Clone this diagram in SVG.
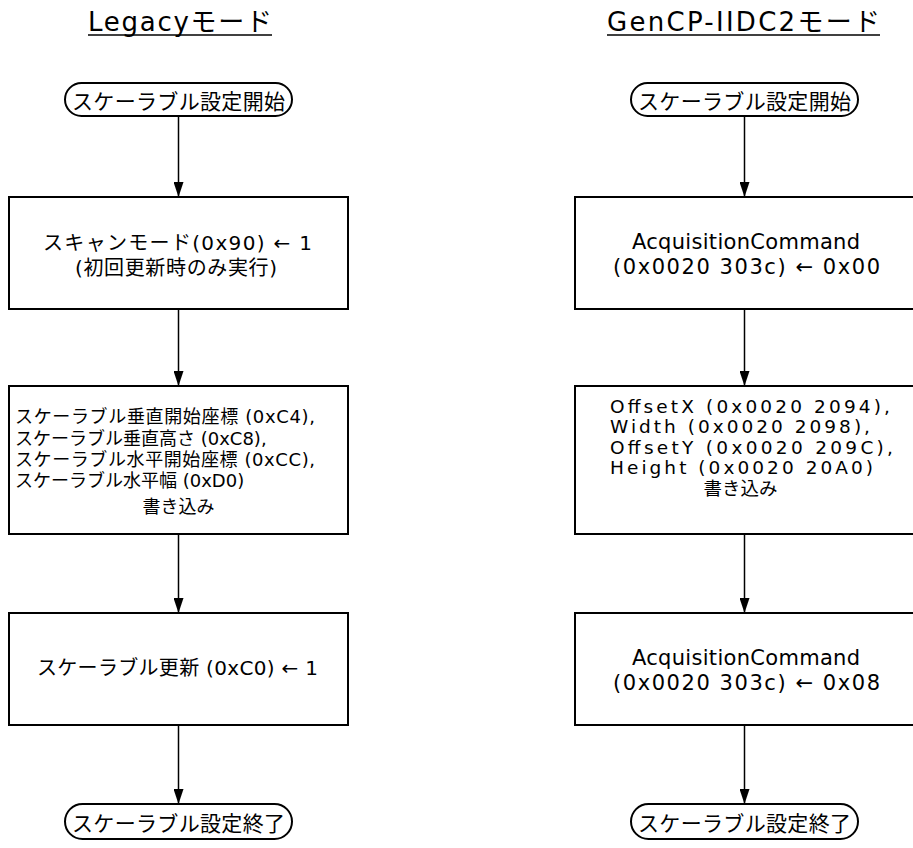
<svg xmlns="http://www.w3.org/2000/svg" width="913" height="848" viewBox="0 0 913 848">
<style>
  text { font-family: "DejaVu Sans", "Noto Sans CJK JP", sans-serif; fill: #000; }
  .title { font-size: 26px; }
  .t { font-size: 20px; dominant-baseline: central; }
  .s { font-size: 18px; }
  .r2 { font-size: 18.5px; }
  .lat { font-size: 21px; }
  .term-t { font-size: 21px; dominant-baseline: central; font-family: "Noto Sans CJK JP", sans-serif; }
  .box { fill: #fff; stroke: #000; stroke-width: 2; }
  .term { fill: #fff; stroke: #000; stroke-width: 2; }
  .conn line { stroke: #000; stroke-width: 1.5; }
  .ul { stroke: #000; stroke-width: 1.5; }
</style>
<defs>
  <marker id="ah" markerUnits="userSpaceOnUse" viewBox="0 0 15 10" markerWidth="15" markerHeight="10" refX="15" refY="5" orient="auto">
    <path d="M0,0 L15,5 L0,10 z" fill="#000"/>
  </marker>
</defs>
<rect width="913" height="848" fill="#fff"/>

<g id="title-legacy">
  <text class="title" x="88" y="31" textLength="184" lengthAdjust="spacing">Legacyモード</text>
  <line class="ul" x1="88" y1="35" x2="272" y2="35"/>
</g>
<g id="title-gencp">
  <text class="title" x="607" y="31" textLength="273" lengthAdjust="spacing">GenCP-IIDC2モード</text>
  <line class="ul" x1="607" y1="35" x2="880" y2="35"/>
</g>

<g class="conn" id="connectors">
  <line x1="178.5" y1="116" x2="178.5" y2="197" marker-end="url(#ah)"/>
  <line x1="178.5" y1="309" x2="178.5" y2="386" marker-end="url(#ah)"/>
  <line x1="178.5" y1="534" x2="178.5" y2="613" marker-end="url(#ah)"/>
  <line x1="178.5" y1="725" x2="178.5" y2="804" marker-end="url(#ah)"/>
  <line x1="744.5" y1="116" x2="744.5" y2="197" marker-end="url(#ah)"/>
  <line x1="744.5" y1="309" x2="744.5" y2="386" marker-end="url(#ah)"/>
  <line x1="744.5" y1="534" x2="744.5" y2="613" marker-end="url(#ah)"/>
  <line x1="744.5" y1="725" x2="744.5" y2="804" marker-end="url(#ah)"/>
</g>

<g id="l-start">
  <rect class="term" x="65" y="83" width="227" height="33" rx="16.5"/>
  <text class="term-t" x="178.5" y="99.5" text-anchor="middle" textLength="213" lengthAdjust="spacing">スケーラブル設定開始</text>
</g>
<g id="l-box1">
  <rect class="box" x="9" y="197" width="339" height="112"/>
  <text class="t" x="43" y="243" textLength="269" lengthAdjust="spacing">スキャンモード(0x90) ← 1</text>
  <text class="t" x="75" y="268" textLength="202" lengthAdjust="spacing">(初回更新時のみ実行)</text>
</g>
<g id="l-box2">
  <rect class="box" x="9" y="386" width="339" height="148"/>
  <text class="t s" x="15" y="416" textLength="300" lengthAdjust="spacing">スケーラブル垂直開始座標 (0xC4),</text>
  <text class="t s" x="15" y="438">スケーラブル垂直高さ (0xC8),</text>
  <text class="t s" x="15" y="459" textLength="300" lengthAdjust="spacing">スケーラブル水平開始座標 (0xCC),</text>
  <text class="t s" x="15" y="480">スケーラブル水平幅 (0xD0)</text>
  <text class="t s" x="178.5" y="506" text-anchor="middle">書き込み</text>
</g>
<g id="l-box3">
  <rect class="box" x="9" y="613" width="339" height="112"/>
  <text class="t" x="37" y="668" textLength="281" lengthAdjust="spacing">スケーラブル更新 (0xC0) ← 1</text>
</g>
<g id="l-end">
  <rect class="term" x="65" y="804" width="227" height="35" rx="17.5"/>
  <text class="term-t" x="178.5" y="821.5" text-anchor="middle" textLength="213" lengthAdjust="spacing">スケーラブル設定終了</text>
</g>

<g id="r-start">
  <rect class="term" x="631" y="83" width="227" height="33" rx="16.5"/>
  <text class="term-t" x="744.5" y="99.5" text-anchor="middle" textLength="213" lengthAdjust="spacing">スケーラブル設定開始</text>
</g>
<g id="r-box1">
  <rect class="box" x="575" y="197" width="339" height="112"/>
  <text class="t lat" x="632" y="242" textLength="228" lengthAdjust="spacing">AcquisitionCommand</text>
  <text class="t lat" x="613" y="267" textLength="267" lengthAdjust="spacing">(0x0020 303c) ← 0x00</text>
</g>
<g id="r-box2">
  <rect class="box" x="575" y="386" width="339" height="148"/>
  <text class="t r2" x="610" y="406" textLength="280" lengthAdjust="spacing">OffsetX (0x0020 2094),</text>
  <text class="t r2" x="610" y="426.5" textLength="260" lengthAdjust="spacing">Width (0x0020 2098),</text>
  <text class="t r2" x="610" y="447" textLength="283" lengthAdjust="spacing">OffsetY (0x0020 209C),</text>
  <text class="t r2" x="610" y="467.5" textLength="263" lengthAdjust="spacing">Height (0x0020 20A0)</text>
  <text class="t r2" x="740.5" y="488" text-anchor="middle">書き込み</text>
</g>
<g id="r-box3">
  <rect class="box" x="575" y="613" width="339" height="112"/>
  <text class="t lat" x="632" y="658" textLength="228" lengthAdjust="spacing">AcquisitionCommand</text>
  <text class="t lat" x="613" y="683" textLength="267" lengthAdjust="spacing">(0x0020 303c) ← 0x08</text>
</g>
<g id="r-end">
  <rect class="term" x="631" y="804" width="227" height="35" rx="17.5"/>
  <text class="term-t" x="744.5" y="821.5" text-anchor="middle" textLength="213" lengthAdjust="spacing">スケーラブル設定終了</text>
</g>
</svg>
